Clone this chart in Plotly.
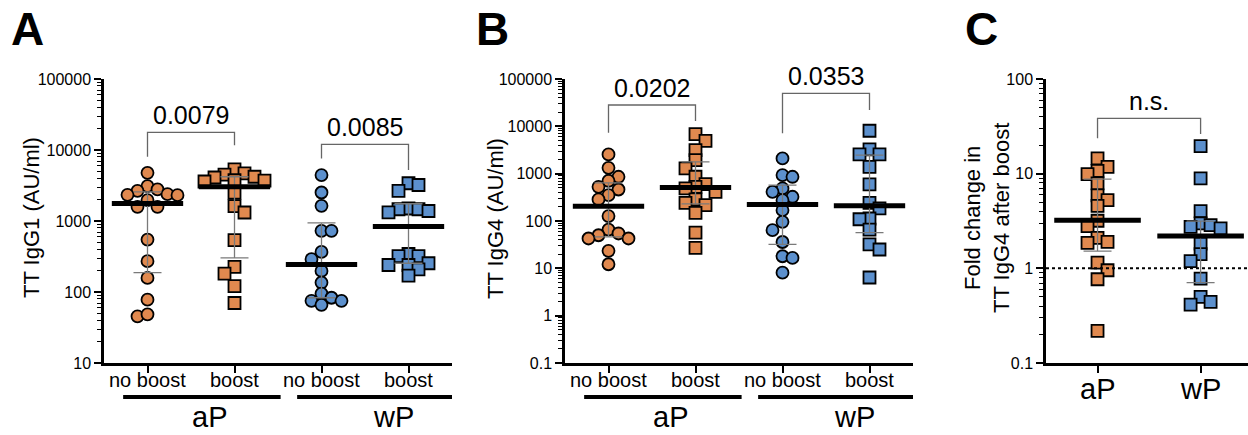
import numpy as np
import plotly.graph_objects as go

# ---------------- DATA ----------------
# Panel A: TT IgG1 (AU/ml)
A_categories = ["no boost", "boost", "no boost", "boost"]
A_aP_noboost = [4775, 3100, 2780, 2660, 2390, 2310, 2340, 1970, 1585, 1585, 548, 272, 158, 78, 45.5, 48.5]
A_aP_boost = [5350, 4700, 4500, 4200, 4100, 3750, 3700, 3600, 2500, 1620, 1318, 537, 226, 182, 121, 70]
A_wP_noboost = [4430, 2520, 1636, 727, 727, 367, 290, 198, 136, 95, 83, 75, 75, 66]
A_wP_boost = [3400, 3215, 2650, 1500, 1463, 1463, 1383, 1326, 343, 321, 321, 254, 240, 240, 208, 170]
A_median = [1770, 3040, 244, 834]
A_q3 = [2580, 4200, 942, 1750]
A_q1 = [188, 303, 83, 254]
A_pvalues = ["0.0079", "0.0085"]
A_bracket_left = [8030, 7600]
A_bracket_top = [17700, 12000]
A_bracket_right = [11700, 5210]
A_yticks = [10, 100, 1000, 10000, 100000]

# Panel B: TT IgG4 (AU/ml)
B_categories = ["no boost", "boost", "no boost", "boost"]
B_aP_noboost = [2550, 1330, 860, 708, 528, 463, 352, 285, 127, 66, 54.5, 50, 42.7, 42.7, 23.4, 12.2]
B_aP_boost = [6870, 4950, 3150, 1935, 1290, 860, 601, 527, 488, 414, 285, 242, 216, 149, 57, 27]
B_wP_noboost = [2100, 933, 860, 488, 414, 325, 276, 169, 96, 64, 36, 18, 16.6, 8.1]
B_wP_boost = [8070, 3260, 2550, 2550, 1397, 592, 242, 185, 113, 109, 66, 32, 25, 6.4]
B_median = [206, 510, 223, 210]
B_q3 = [641, 1780, 573, 2470]
B_q1 = [46, 229, 32, 57]
B_pvalues = ["0.0202", "0.0353"]
B_bracket_left = [7330, 7100]
B_bracket_top = [28200, 49800]
B_bracket_right = [12900, 22100]
B_yticks = [0.1, 1, 10, 100, 1000, 10000, 100000]

# Panel C: fold change in TT IgG4 after boost
C_categories = ["aP", "wP"]
C_aP = [14.5, 11.8, 10.7, 9.9, 7.9, 5.9, 5.25, 4.57, 3.18, 2.79, 2.10, 1.90, 1.86, 1.15, 0.955, 0.767, 0.218]
C_wP = [19.5, 8.9, 4.02, 2.98, 2.86, 2.74, 2.64, 1.83, 1.41, 1.19, 0.78, 0.499, 0.442, 0.414]
C_median = [3.22, 2.2]
C_q3 = [8.75, 3.15]
C_q1 = [1.52, 0.708]
C_pvalues = ["n.s."]
C_bracket_left = [23.6]
C_bracket_top = [38.4]
C_bracket_right = [26.2]
C_reference = 1
C_yticks = [0.1, 1, 10, 100]

group_names = ["aP", "wP"]

# ---------------- STYLE / LAYOUT ----------------
W, H = 1248, 435
FONT = "Liberation Sans, Arial, Helvetica, sans-serif"
ORANGE = "#E0894F"
BLUE = "#5C90CD"
PLOT_TOP, PLOT_BOT = 79, 363
ydom = [(H - PLOT_BOT) / H, (H - PLOT_TOP) / H]
panels_px = {"A": (104, 452), "B": (565, 913), "C": (1046, 1248)}
xranges = {"A": [-0.5, 3.5], "B": [-0.5, 3.5], "C": [-0.5, 1.46]}
yranges = {"A": [1, 5], "B": [-1, 5], "C": [-1, 2]}
axis_ids = {"A": ("x", "y"), "B": ("x2", "y2"), "C": ("x3", "y3")}
MSIZE = 12


def px_scales(p):
    x0, x1 = panels_px[p]
    pxc = (x1 - x0) / (xranges[p][1] - xranges[p][0])
    pyd = (PLOT_BOT - PLOT_TOP) / (yranges[p][1] - yranges[p][0])
    return pxc, pyd


def swarm(vals, p, step=10.0, mind=10.0):
    pxc, pyd = px_scales(p)
    ys = np.log10(np.asarray(vals, float)) * pyd
    order = np.argsort(-ys)
    placed = []
    offs = np.zeros(len(ys))
    flip = 1
    for i in order:
        cands = [0.0]
        for k in range(1, 10):
            cands += [flip * k * step, -flip * k * step]
        chosen = cands[-1]
        for c in cands:
            if all((c - a) ** 2 + (ys[i] - b) ** 2 >= mind ** 2 for a, b in placed):
                chosen = c
                break
        if chosen != 0:
            flip = -flip
        placed.append((chosen, ys[i]))
        offs[i] = chosen / pxc
    return offs


fig = go.Figure()


def add_group(p, cat, vals, color, symbol):
    xa, ya = axis_ids[p]
    offs = swarm(vals, p)
    fig.add_trace(go.Scatter(
        x=cat + offs, y=vals, mode="markers", xaxis=xa, yaxis=ya,
        marker=dict(symbol=symbol, size=MSIZE, color=color,
                    line=dict(color="black", width=1.8)),
        showlegend=False, hoverinfo="y"))


def add_summary(p, cats, med, q1, q3, half=0.41):
    xa, ya = axis_ids[p]
    for c, m, lo, hi in zip(cats, med, q1, q3):
        fig.add_trace(go.Scatter(
            x=[c], y=[m], mode="markers", xaxis=xa, yaxis=ya,
            marker=dict(size=1, color="rgba(0,0,0,0)"),
            error_y=dict(type="data", symmetric=False, array=[hi - m], arrayminus=[m - lo],
                         color="#7a7a7a", thickness=1.3, width=14),
            showlegend=False, hoverinfo="skip"))
    for c, m in zip(cats, med):
        fig.add_trace(go.Scatter(
            x=[c - half, c + half], y=[m, m], mode="lines", xaxis=xa, yaxis=ya,
            line=dict(color="black", width=5), showlegend=False, hoverinfo="skip"))


def add_brackets(p, pairs, left, top, right, labels):
    xa, ya = axis_ids[p]
    for (c0, c1), l, t, r, lab in zip(pairs, left, top, right, labels):
        fig.add_trace(go.Scatter(
            x=[c0, c0, c1, c1], y=[l, t, t, r], mode="lines", xaxis=xa, yaxis=ya,
            line=dict(color="#666666", width=1.3), showlegend=False, hoverinfo="skip"))
        fig.add_annotation(x=(c0 + c1) / 2, y=np.log10(t), xref=xa, yref=ya,
                           text=lab, showarrow=False, xanchor="center", yanchor="bottom",
                           yshift=1, font=dict(family=FONT, size=25, color="black"))


# Panel A
add_group("A", 0, A_aP_noboost, ORANGE, "circle")
add_group("A", 1, A_aP_boost, ORANGE, "square")
add_group("A", 2, A_wP_noboost, BLUE, "circle")
add_group("A", 3, A_wP_boost, BLUE, "square")
add_summary("A", [0, 1, 2, 3], A_median, A_q1, A_q3)
add_brackets("A", [(0, 1), (2, 3)], A_bracket_left, A_bracket_top, A_bracket_right, A_pvalues)

# Panel B
add_group("B", 0, B_aP_noboost, ORANGE, "circle")
add_group("B", 1, B_aP_boost, ORANGE, "square")
add_group("B", 2, B_wP_noboost, BLUE, "circle")
add_group("B", 3, B_wP_boost, BLUE, "square")
add_summary("B", [0, 1, 2, 3], B_median, B_q1, B_q3)
add_brackets("B", [(0, 1), (2, 3)], B_bracket_left, B_bracket_top, B_bracket_right, B_pvalues)

# Panel C
fig.add_shape(type="line", xref="x3 domain", yref="y3", x0=0, x1=1,
              y0=C_reference, y1=C_reference, line=dict(color="black", width=2, dash="dot"))
add_group("C", 0, C_aP, ORANGE, "square")
add_group("C", 1, C_wP, BLUE, "square")
add_summary("C", [0, 1], C_median, C_q1, C_q3, half=0.42)
add_brackets("C", [(0, 1)], C_bracket_left, C_bracket_top, C_bracket_right, C_pvalues)


def minor_vals(lo, hi):
    return [m * 10.0 ** e for e in range(lo, hi) for m in range(2, 10)]


def fmt(v):
    return ("%g" % v)


layout = dict(width=W, height=H, margin=dict(l=0, r=0, t=0, b=0, pad=0, autoexpand=False),
              plot_bgcolor="white", paper_bgcolor="white",
              font=dict(family=FONT, color="black"))

xcats = {"A": A_categories, "B": B_categories, "C": C_categories}
yt = {"A": A_yticks, "B": B_yticks, "C": C_yticks}
for i, p in enumerate(["A", "B", "C"]):
    sfx = "" if i == 0 else str(i + 1)
    x0, x1 = panels_px[p]
    layout["xaxis" + sfx] = dict(
        domain=[x0 / W, x1 / W], range=xranges[p], anchor="y" + sfx, automargin=False,
        showgrid=False, zeroline=False, showline=True, linecolor="black", linewidth=2.5,
        ticks="outside", ticklen=7, tickwidth=2, tickcolor="black",
        tickvals=list(range(len(xcats[p]))), ticktext=[""] * len(xcats[p]),
        fixedrange=True)
    lo, hi = yranges[p]
    layout["yaxis" + sfx] = dict(
        domain=ydom, type="log", range=[lo, hi], anchor="x" + sfx, automargin=False,
        showgrid=False, zeroline=False, showline=True, linecolor="black", linewidth=2.5,
        ticks="outside", ticklen=7, tickwidth=2, tickcolor="black",
        tickvals=yt[p], ticktext=[fmt(v) for v in yt[p]],
        tickfont=dict(family=FONT, size=16, color="black"),
        minor=dict(ticks="outside", ticklen=4, tickwidth=1.3, tickcolor="black",
                   tickvals=minor_vals(lo, hi), showgrid=False),
        fixedrange=True)

fig.update_layout(**layout)


def label(x, y, xref, text, size, angle=0, bold=False):
    fig.add_annotation(x=x, y=y, xref=xref, yref="paper",
                       text=("<b>%s</b>" % text) if bold else text,
                       textangle=angle, showarrow=False, xanchor="center", yanchor="middle",
                       font=dict(family=FONT, size=size, color="black"))


# Category labels
for p, xa in [("A", "x"), ("B", "x2")]:
    for c, lab in enumerate(xcats[p]):
        label(c, (H - 380) / H, xa, lab, 20)
for c, lab in enumerate(C_categories):
    label(c, (H - 389) / H, "x3", lab, 29)

# Group underlines and group labels under panels A and B
for p, xa in [("A", "x"), ("B", "x2")]:
    for (g0, g1), name, cx in zip([(-0.28, 1.53), (1.72, 3.53)], group_names, [0.71, 2.83]):
        fig.add_shape(type="line", xref=xa, yref="paper", x0=g0, x1=g1,
                      y0=(H - 397) / H, y1=(H - 397) / H, line=dict(color="black", width=4))
        label(cx, (H - 417) / H, xa, name, 29)

# Axis titles
titles = [("TT IgG1 (AU/ml)", 32), ("TT IgG4 (AU/ml)", 496),
          ("Fold change in<br>TT IgG4 after boost", 987)]
for txt, xp in titles:
    label(xp / W, (H - 218) / H, "paper", txt, 22, angle=-90)

# Panel letters
for letter, xp in [("A", 27), ("B", 492), ("C", 981)]:
    label(xp / W, (H - 29) / H, "paper", letter, 46, bold=True)

fig.write_html("out.html", config={"displayModeBar": False},
               post_script="document.body.style.margin='0';document.body.style.padding='0';")
